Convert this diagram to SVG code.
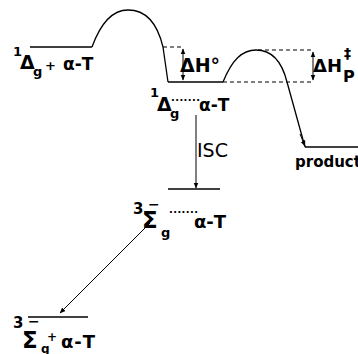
<svg xmlns="http://www.w3.org/2000/svg" width="358" height="354" viewBox="0 0 358 354">
<style>
.ln{fill:none;stroke:#000;stroke-width:1.3}
.ds{fill:none;stroke:#000;stroke-width:1.1;stroke-dasharray:4 3}
.ar{fill:none;stroke:#000;stroke-width:1}
text{font-family:"DejaVu Sans","Liberation Sans",sans-serif;font-weight:bold;fill:#000}
.rg{font-weight:normal}
</style>
<defs>
<marker id="ah" viewBox="0 0 10 10" refX="9" refY="5" markerWidth="6" markerHeight="6" orient="auto-start-reverse" markerUnits="userSpaceOnUse">
<path d="M0,1 L10,5 L0,9 z" fill="#000"/>
</marker>
</defs>
<rect width="358" height="354" fill="#fff"/>
<g id="connectors">
<path class="ln" d="M92,47 C100,25 112,10 128,10 C146,10 157,22 163,47 L168,82"/>
<path class="ln" d="M223,82 C232,60 242,50 256,50 C272,50 282,62 287,82 L305,147"/>
<path class="ds" d="M163,47 H183"/>
<path class="ds" d="M223,82 H313"/>
<path class="ds" d="M258,50 H313"/>
<path class="ar" d="M183,49 V80" marker-start="url(#ah)" marker-end="url(#ah)"/>
<path class="ar" d="M313,52 V80" marker-start="url(#ah)" marker-end="url(#ah)"/>
<path class="ar" d="M196,115 V188" marker-end="url(#ah)"/>
<path class="ar" d="M150,223 L60,313" marker-end="url(#ah)"/>
<path class="ar" d="M300,134 L305,146" marker-end="url(#ah)"/>
</g>
<g id="level-1Dg-aT">
<path class="ln" d="M30,47 H92"/>
<text x="13" y="56" font-size="13">1</text>
<text x="20" y="69" font-size="19">Δ</text>
<text x="33" y="76" font-size="13">g</text>
<text x="45" y="70" font-size="13">+</text>
<text x="63" y="70" font-size="17">α-T</text>
</g>
<g id="level-1Dg-complex">
<path class="ln" d="M168,82 H223"/>
<text x="150" y="97" font-size="13">1</text>
<text x="157" y="111" font-size="19">Δ</text>
<text x="170" y="118" font-size="13">g</text>
<text x="171" y="104" font-size="10" letter-spacing="0.4">·······</text>
<text x="199" y="111" font-size="17">α-T</text>
</g>
<g id="dH0">
<text x="180" y="72" font-size="19">ΔH°</text>
</g>
<g id="dHp">
<text x="313" y="72" font-size="18">ΔH</text>
<text x="344" y="58" font-size="14">‡</text>
<text x="343" y="82" font-size="16">P</text>
</g>
<g id="product">
<path class="ln" d="M305,147 H358"/>
<text x="295" y="167" font-size="15">product</text>
</g>
<g id="isc">
<text class="rg" x="197" y="157" font-size="19">ISC</text>
</g>
<g id="level-3Sg-complex">
<path class="ln" d="M168,189 H220"/>
<text x="133" y="214" font-size="15">3</text>
<text x="148" y="209" font-size="14">−</text>
<text x="142" y="228" font-size="23">Σ</text>
<text x="161" y="237" font-size="13">g</text>
<text x="169" y="216" font-size="10" letter-spacing="0.4">·······</text>
<text x="194" y="228" font-size="18">α-T</text>
</g>
<g id="level-3Sg-aT">
<path class="ln" d="M28,317 H88"/>
<text x="13" y="328" font-size="15">3</text>
<text x="28" y="326" font-size="14">−</text>
<text x="22" y="348" font-size="23">Σ</text>
<text x="41" y="353" font-size="12">g</text>
<text x="47" y="341" font-size="12">+</text>
<text x="61" y="348" font-size="18" letter-spacing="1">α-T</text>
</g>
</svg>
